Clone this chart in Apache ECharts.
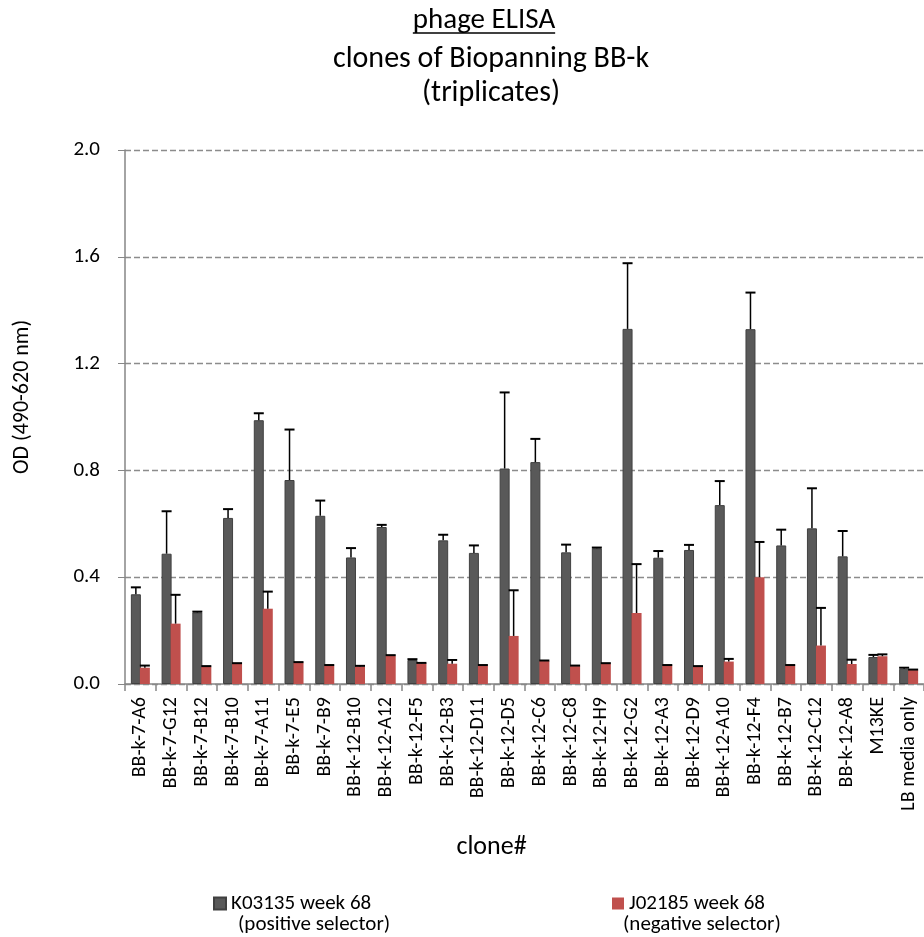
<!DOCTYPE html>
<html>
<head>
<meta charset="utf-8">
<title>phage ELISA</title>
<script src="https://cdn.jsdelivr.net/npm/echarts@6/dist/echarts.min.js"></script>
<style>
  html, body { margin: 0; padding: 0; background: #ffffff; }
  #chart { width: 924px; height: 937px; }
</style>
</head>
<body>
<div id="chart"></div>
<script>
// Clone identifiers on the x axis
const clones = [
  'BB-k-7-A6', 'BB-k-7-G12', 'BB-k-7-B12', 'BB-k-7-B10', 'BB-k-7-A11', 'BB-k-7-E5', 'BB-k-7-B9',
  'BB-k-12-B10', 'BB-k-12-A12', 'BB-k-12-F5', 'BB-k-12-B3', 'BB-k-12-D11', 'BB-k-12-D5', 'BB-k-12-C6',
  'BB-k-12-C8', 'BB-k-12-H9', 'BB-k-12-G2', 'BB-k-12-A3', 'BB-k-12-D9', 'BB-k-12-A10', 'BB-k-12-F4',
  'BB-k-12-B7', 'BB-k-12-C12', 'BB-k-12-A8', 'M13KE', 'LB media only'
];

// K03135 week 68 (positive selector): mean OD and standard deviation
const positiveMean = [
  0.336, 0.488, 0.268, 0.622, 0.988, 0.764, 0.630,
  0.474, 0.588, 0.090, 0.538, 0.491, 0.807, 0.831,
  0.493, 0.508, 1.330, 0.473, 0.502, 0.670, 1.329,
  0.519, 0.583, 0.478, 0.101, 0.057
];
const positiveSd = [
  0.026, 0.159, 0.003, 0.033, 0.026, 0.189, 0.057,
  0.035, 0.008, 0.003, 0.021, 0.028, 0.285, 0.087,
  0.029, 0.003, 0.246, 0.025, 0.019, 0.090, 0.137,
  0.059, 0.150, 0.095, 0.008, 0.004
];

// J02185 week 68 (negative selector): mean OD and standard deviation
const negativeMean = [
  0.061, 0.226, 0.065, 0.076, 0.282, 0.080, 0.069,
  0.066, 0.106, 0.077, 0.076, 0.069, 0.180, 0.086,
  0.067, 0.076, 0.266, 0.069, 0.065, 0.084, 0.400,
  0.069, 0.144, 0.075, 0.104, 0.052
];
const negativeSd = [
  0.008, 0.108, 0.002, 0.002, 0.064, 0.002, 0.002,
  0.002, 0.002, 0.002, 0.014, 0.002, 0.171, 0.002,
  0.002, 0.002, 0.183, 0.002, 0.002, 0.010, 0.132,
  0.002, 0.141, 0.016, 0.007, 0.002
];

const yTickStep = 0.4;
const yMax = 2.0;

const FONT = 'Carlito, Lato, "Liberation Sans", sans-serif';
const BAR_W = 10;
const BAR_GAP = -0.1; // fraction of bar width
const POS_NAME = 'K03135 week 68';
const NEG_NAME = 'J02185 week 68';
const HEADING = 'phage ELISA';
const HEADING_SIZE = 29;
const HEADING_X = 484;

// horizontal offset of each bar's centre from its category centre
const groupWidth = BAR_W * 2 + BAR_W * BAR_GAP;
const posOffset = -groupWidth / 2 + BAR_W / 2;
const negOffset = -groupWidth / 2 + BAR_W * (1 + BAR_GAP) + BAR_W / 2;

// width of the heading, used for its underline
const measureCtx = document.createElement('canvas').getContext('2d');
measureCtx.font = HEADING_SIZE + 'px ' + FONT;
const headingWidth = measureCtx.measureText(HEADING).width;

function errorBar(offset) {
  return function (params, api) {
    const idx = api.value(0);
    const mean = api.value(1);
    const sd = api.value(2);
    const x = api.coord([idx, mean])[0] + offset;
    const yBase = api.coord([idx, mean])[1];
    const yTop = api.coord([idx, mean + sd])[1];
    return {
      type: 'group',
      children: [
        { type: 'line', shape: { x1: x, y1: yBase, x2: x, y2: yTop },
          style: { stroke: '#000', lineWidth: 1.5 } },
        { type: 'line', shape: { x1: x - 5, y1: yTop, x2: x + 5, y2: yTop },
          style: { stroke: '#000', lineWidth: 2 } }
      ]
    };
  };
}

const legendText = { fontFamily: FONT, fontSize: 21, color: '#000' };

const chart = echarts.init(document.getElementById('chart'), null, { renderer: 'canvas' });

chart.setOption({
  animation: false,
  backgroundColor: '#ffffff',
  textStyle: { fontFamily: FONT },
  title: [
    { text: 'clones of Biopanning BB-k\n(triplicates)', left: 486, top: 37, textAlign: 'center',
      textStyle: { fontFamily: FONT, fontSize: 30, fontWeight: 'normal', color: '#000', lineHeight: 34.5 } }
  ],
  graphic: [
    // underlined main heading
    { type: 'text', x: HEADING_X, y: 21,
      style: { text: HEADING, fontFamily: FONT, fontSize: HEADING_SIZE, fill: '#000',
        align: 'center', verticalAlign: 'middle' } },
    { type: 'line',
      shape: { x1: HEADING_X - headingWidth / 2, y1: 33, x2: HEADING_X + headingWidth / 2, y2: 33 },
      style: { stroke: '#000', lineWidth: 1.5 } },
    // second lines of the legend entries
    { type: 'text', left: 238, top: 914,
      style: Object.assign({ text: '(positive selector)' }, legendText, { fill: '#000' }) },
    { type: 'text', left: 623, top: 914,
      style: Object.assign({ text: '(negative selector)' }, legendText, { fill: '#000' }) }
  ],
  legend: [
    {
      data: [POS_NAME], left: 208, top: 888,
      icon: 'rect', itemWidth: 12, itemHeight: 12,
      textStyle: legendText
    },
    {
      data: [NEG_NAME], left: 607, top: 888,
      icon: 'rect', itemWidth: 12, itemHeight: 12,
      textStyle: legendText
    }
  ],
  grid: { left: 125, top: 150, width: 801, height: 534, containLabel: false },
  xAxis: {
    type: 'category',
    data: clones,
    name: 'clone#',
    nameLocation: 'middle',
    nameGap: 150,
    nameTextStyle: { fontFamily: FONT, fontSize: 26, color: '#000', padding: [0, 66, 0, 0] },
    axisLine: { lineStyle: { color: '#868686', width: 1.5 } },
    axisTick: { show: true, length: 7, lineStyle: { color: '#868686', width: 1.5 } },
    axisLabel: { rotate: 90, fontFamily: FONT, fontSize: 20, color: '#000', margin: 13, interval: 0 }
  },
  yAxis: {
    type: 'value',
    min: 0,
    max: yMax,
    interval: yTickStep,
    name: 'OD (490-620 nm)',
    nameLocation: 'middle',
    nameGap: 92,
    nameTextStyle: { fontFamily: FONT, fontSize: 22, color: '#000', padding: [0, 0, 0, 40] },
    axisLine: { show: true, lineStyle: { color: '#868686', width: 1.5 } },
    axisTick: { show: true, length: 7, lineStyle: { color: '#868686', width: 1 } },
    axisLabel: { fontFamily: FONT, fontSize: 21, color: '#000', margin: 25,
      formatter: v => v.toFixed(1) },
    splitLine: { show: true, lineStyle: { color: '#8c8c8c', type: [6, 3], width: 1.3 } }
  },
  series: [
    {
      name: POS_NAME, type: 'bar', data: positiveMean,
      barWidth: BAR_W, barGap: (BAR_GAP * 100) + '%',
      itemStyle: { color: '#595959', borderColor: '#404040', borderWidth: 1 },
      z: 2
    },
    {
      name: NEG_NAME, type: 'bar', data: negativeMean,
      barWidth: BAR_W,
      itemStyle: { color: '#c0504d' },
      z: 2
    },
    {
      type: 'custom', name: 'sd-pos',
      renderItem: errorBar(posOffset),
      data: positiveMean.map((m, i) => [i, m, positiveSd[i]]),
      encode: { x: 0, y: [1] },
      z: 3, silent: true
    },
    {
      type: 'custom', name: 'sd-neg',
      renderItem: errorBar(negOffset),
      data: negativeMean.map((m, i) => [i, m, negativeSd[i]]),
      encode: { x: 0, y: [1] },
      z: 3, silent: true
    }
  ]
});
</script>
</body>
</html>
